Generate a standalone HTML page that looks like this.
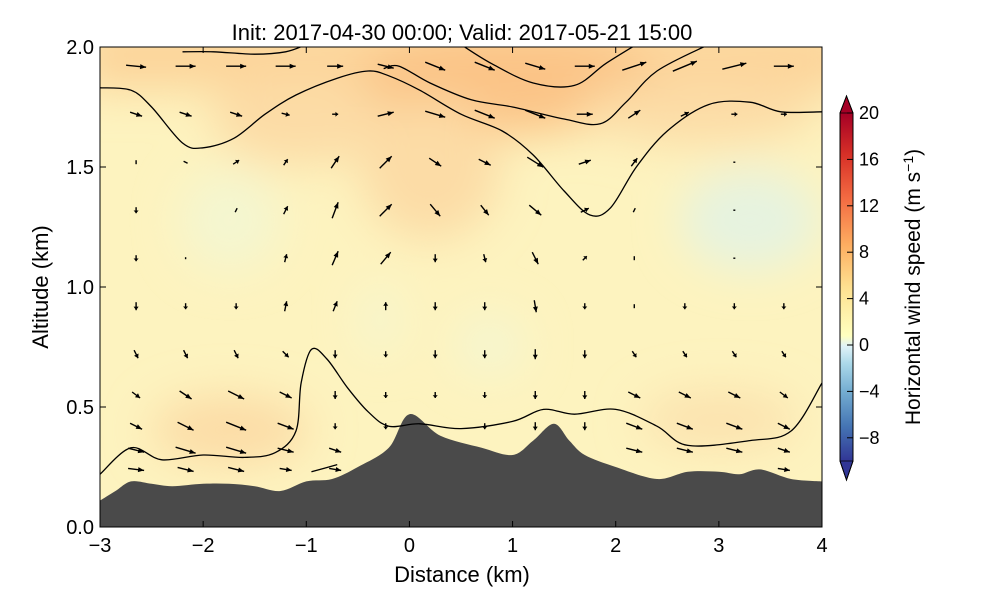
<!DOCTYPE html>
<html><head><meta charset="utf-8"><style>
body{margin:0;background:#fff;}
svg text{font-family:"Liberation Sans",sans-serif;fill:#000;}
</style></head><body>
<svg id="c" width="1000" height="600" xmlns="http://www.w3.org/2000/svg">
<defs>
<filter id="blur" x="-50%" y="-50%" width="200%" height="200%"><feGaussianBlur stdDeviation="22"/></filter>
<clipPath id="clip"><rect x="100" y="47" width="722" height="480"/></clipPath>
<linearGradient id="cbg" x1="0" y1="1" x2="0" y2="0">
<stop offset="0" stop-color="#313695"/><stop offset="0.1" stop-color="#4575b4"/><stop offset="0.2" stop-color="#74add1"/>
<stop offset="0.28" stop-color="#abd9e9"/><stop offset="0.33" stop-color="#e0f3f8"/><stop offset="0.36" stop-color="#ffffbf"/>
<stop offset="0.5" stop-color="#fee090"/><stop offset="0.62" stop-color="#fdae61"/><stop offset="0.75" stop-color="#f46d43"/>
<stop offset="0.88" stop-color="#d73027"/><stop offset="1" stop-color="#a50026"/></linearGradient>
</defs>
<text x="462" y="40" font-size="22" text-anchor="middle">Init: 2017-04-30 00:00; Valid: 2017-05-21 15:00</text>
<g clip-path="url(#clip)">
<rect x="100" y="47" width="722" height="480" fill="#fdf3bf"/>
<g filter="url(#blur)">
<rect x="80" y="20" width="780" height="70" fill="#fcd49a"/>
<ellipse cx="510" cy="80" rx="150" ry="55" fill="#fbc487"/>
<ellipse cx="300" cy="120" rx="90" ry="45" fill="#fcdca6"/>
<ellipse cx="700" cy="110" rx="120" ry="35" fill="#fcdca6"/>
<ellipse cx="430" cy="170" rx="70" ry="70" fill="#fcdca6"/>
<ellipse cx="230" cy="220" rx="50" ry="50" fill="#f4f6d0"/>
<ellipse cx="750" cy="220" rx="70" ry="50" fill="#e6f3e0"/>
<ellipse cx="490" cy="345" rx="35" ry="30" fill="#f5f6d0"/>
<ellipse cx="380" cy="320" rx="18" ry="35" fill="#f5f6d0"/>
<ellipse cx="230" cy="430" rx="80" ry="35" fill="#fcdca6"/>
<ellipse cx="720" cy="420" rx="80" ry="30" fill="#fce2ae"/>
</g>
<polygon id="terrain" fill="#4a4a4a"/>
<g id="contours" fill="none" stroke="#000" stroke-width="1.3"></g>
<g id="arrows"></g>
</g>
<rect x="100" y="47" width="722" height="480" fill="none" stroke="#000" stroke-width="1"/>
<g id="axes" font-size="20"></g>
<text x="462" y="582" font-size="22" text-anchor="middle">Distance (km)</text>
<text transform="translate(48,287) rotate(-90)" font-size="22" text-anchor="middle">Altitude (km)</text>
<g>
<rect x="840" y="113" width="13" height="348" fill="url(#cbg)"/>
<polygon points="840,113 853,113 846.5,96" fill="#a50026" stroke="#000" stroke-width="0.8"/>
<polygon points="840,461 853,461 846.5,480" fill="#313695" stroke="#000" stroke-width="0.8"/>
<polygon points="840,113 846.5,96 853,113 853,461 846.5,480 840,461" fill="none" stroke="#000" stroke-width="1"/>
<g id="cbticks" font-size="18"></g>
<text transform="translate(920,287) rotate(-90)" font-size="21" text-anchor="middle">Horizontal wind speed (m s<tspan dy="-7" font-size="14">−1</tspan><tspan dy="7">)</tspan></text>
</g>
</svg>
<script>
const xTicks=[-3,-2,-1,0,1,2,3,4];
const yTicks=[0.0,0.5,1.0,1.5,2.0];
const cbTicks=[20,16,12,8,4,0,-4,-8];
const terrainX=[-3,-2.85,-2.7,-2.5,-2.3,-2.0,-1.75,-1.5,-1.25,-1.0,-0.75,-0.5,-0.2,0,0.3,0.7,1.0,1.2,1.4,1.55,1.7,2.0,2.4,2.7,3.0,3.2,3.4,3.7,4];
const terrainY=[0.11,0.15,0.19,0.18,0.17,0.18,0.18,0.17,0.15,0.19,0.20,0.25,0.33,0.47,0.38,0.33,0.30,0.36,0.43,0.36,0.30,0.25,0.20,0.23,0.23,0.22,0.24,0.20,0.19];
const contourUpperX=[-3,-2.7,-2.5,-2.2,-2,-1.7,-1.4,-1.1,-0.7,-0.4,-0.2,0.1,0.5,0.9,1.2,1.5,1.75,1.95,2.2,2.5,2.9,3.3,3.6,4];
const contourUpperY=[1.83,1.82,1.75,1.60,1.58,1.62,1.72,1.80,1.87,1.90,1.88,1.82,1.72,1.65,1.55,1.40,1.30,1.33,1.50,1.65,1.76,1.77,1.73,1.73];
const contourTopX=[-0.25,-0.1,0.2,0.6,1.0,1.5,1.85,2.1,2.4,2.9];
const contourTopY=[1.91,1.92,1.85,1.78,1.75,1.70,1.68,1.77,1.90,2.01];
const contourTop2X=[0.5,0.8,1.2,1.6,1.9,2.2];
const contourTop2Y=[2.01,1.93,1.85,1.84,1.93,2.01];
const contourTop3X=[-2.2,-1.9,-1.5,-1.2,-1.0];
const contourTop3Y=[1.98,1.98,1.97,1.98,2.01];
const contourLowerX=[-3,-2.7,-2.4,-2.0,-1.6,-1.3,-1.1,-1.05,-0.95,-0.8,-0.6,-0.4,-0.2,0.1,0.5,1.0,1.3,1.6,2.0,2.4,2.7,3.3,3.7,4];
const contourLowerY=[0.22,0.33,0.28,0.30,0.29,0.31,0.40,0.60,0.74,0.70,0.58,0.48,0.42,0.43,0.41,0.44,0.49,0.47,0.49,0.42,0.34,0.36,0.40,0.60];
const contourSmallX=[-0.95,-0.7];
const contourSmallY=[0.23,0.26];
const arrowCols=[-2.65,-2.17,-1.68,-1.2,-0.72,-0.23,0.25,0.73,1.22,1.7,2.18,2.67,3.15,3.63];
const arrowRows=[1.92,1.72,1.52,1.32,1.12,0.92,0.72,0.55,0.42,0.32,0.24];
const arrowU=[
[10,10,10,10,8,8,10,10,10,10,12,12,12,10],
[6,6,6,4,3,8,10,10,10,8,6,4,3,3],
[0,2,3,2,4,6,6,6,8,6,3,0,1,0],
[0,0,1,2,3,6,5,4,6,4,1,0,1,0],
[0,0,0,1,3,5,0,1,3,2,0,0,1,0],
[0,0,0,1,2,0,0,0,1,0,0,0,0,0],
[2,2,2,3,0,0,0,0,0,0,2,2,2,2],
[4,6,8,6,0,0,0,0,0,0,6,6,6,4],
[6,8,10,8,0,0,0,0,0,0,8,8,8,6],
[8,10,10,8,6,0,0,0,0,0,8,8,8,6],
[8,8,8,6,6,0,0,0,0,0,6,6,6,6]];
const arrowW=[
[-1,0,0,0,0,-2,-4,-4,-3,0,4,5,3,0],
[-2,-2,-2,-1,0,2,-3,-4,-4,0,4,2,0,0],
[-2,-1,2,3,6,6,-4,-3,-5,2,4,0,0,0],
[-3,0,2,4,8,6,-6,-5,-5,2,2,0,0,0],
[-3,-1,0,4,7,6,-4,-4,-6,2,2,0,0,0],
[-4,-3,-3,5,5,4,-4,-4,-6,-3,-2,-3,-3,-3],
[-4,-4,-4,-3,-4,-3,-4,-4,-5,-4,-3,-3,-3,-3],
[-3,-4,-4,-3,-4,-3,-3,-3,-4,-4,-3,-3,-3,-3],
[-3,-4,-4,-3,-3,-3,-3,-3,-4,-4,-3,-3,-3,-3],
[-2,-3,-3,-2,-2,-3,-3,-3,-3,-3,-2,-2,-2,-2],
[-1,-2,-2,-1,-1,-2,-2,-2,-2,-2,-1,-1,-1,-1]];

const NS='http://www.w3.org/2000/svg';
const X=v=>100+(v+3)*722/7;
const Y=v=>527-v*240;
const CB=v=>461-(v+10)*348/30;
function mk(t,a,p){const e=document.createElementNS(NS,t);for(const k in a)e.setAttribute(k,a[k]);p.appendChild(e);return e;}
function smooth(P){let d='M'+P[0][0]+','+P[0][1];for(let i=0;i<P.length-1;i++){const p0=P[Math.max(0,i-1)],p1=P[i],p2=P[i+1],p3=P[Math.min(P.length-1,i+2)];
 d+=` C${p1[0]+(p2[0]-p0[0])/6},${p1[1]+(p2[1]-p0[1])/6} ${p2[0]-(p3[0]-p1[0])/6},${p2[1]-(p3[1]-p1[1])/6} ${p2[0]},${p2[1]}`;}return d;}
let pts=terrainX.map((x,i)=>[X(x),Y(terrainY[i])]);
let td=smooth(pts)+` L${X(4)},${Y(-0.1)} L${X(-3)},${Y(-0.1)} Z`;
const tp=document.getElementById('terrain');
const tpath=mk('path',{d:td,fill:'#4a4a4a'},tp.parentNode);
tp.parentNode.insertBefore(tpath,tp);tp.remove();


function terr(x){for(let i=0;i<terrainX.length-1;i++){if(x>=terrainX[i]&&x<=terrainX[i+1]){const t=(x-terrainX[i])/(terrainX[i+1]-terrainX[i]);return terrainY[i]+t*(terrainY[i+1]-terrainY[i]);}}return 0.2;}
const cg=document.getElementById('contours');
[[contourUpperX,contourUpperY,'contour-upper'],[contourTopX,contourTopY,'contour-top'],[contourTop2X,contourTop2Y,'contour-top-2'],[contourTop3X,contourTop3Y,'contour-top-3'],[contourLowerX,contourLowerY,'contour-lower'],[contourSmallX,contourSmallY,'contour-small']].forEach(c=>{
 const e=mk('path',{d:smooth(c[0].map((x,i)=>[X(x),Y(c[1][i])]))},cg);
 
 
});
const ag=document.getElementById('arrows');
const S=2;
arrowRows.forEach((r,ri)=>arrowCols.forEach((c,ci)=>{
 if(r<terr(c)+0.03)return;
 const u=arrowU[ri][ci],w=arrowW[ri][ci];
 const dx=u*S,dy=-w*S;const L=Math.hypot(dx,dy);if(L<0.5)return;
 const x0=X(c)-dx/2,y0=Y(r)-dy/2,x1=x0+dx,y1=y0+dy;
 const g=mk('g',{},ag);
 
 
 mk('line',{x1:x0,y1:y0,x2:x1,y2:y1,stroke:'#000','stroke-width':1.4},g);
 if(L>5){const ux=dx/L,uy=dy/L,h=Math.min(6,L*0.45);
  mk('polygon',{points:`${x1},${y1} ${x1-ux*h-uy*2.5},${y1-uy*h+ux*2.5} ${x1-ux*h+uy*2.5},${y1-uy*h-ux*2.5}`,fill:'#000'},g);}
}));
const ax=document.getElementById('axes');
xTicks.forEach(t=>{
 mk('line',{x1:X(t),x2:X(t),y1:527,y2:521,stroke:'#000'},ax);
 mk('line',{x1:X(t),x2:X(t),y1:47,y2:53,stroke:'#000'},ax);
 const e=mk('text',{x:X(t),y:552,'text-anchor':'middle'},ax);e.textContent=(t<0?'−':'')+Math.abs(t);
 
 
});
yTicks.forEach(t=>{
 mk('line',{x1:100,x2:106,y1:Y(t),y2:Y(t),stroke:'#000'},ax);
 mk('line',{x1:822,x2:816,y1:Y(t),y2:Y(t),stroke:'#000'},ax);
 const e=mk('text',{x:94,y:Y(t)+7,'text-anchor':'end'},ax);e.textContent=t.toFixed(1);
 
 
});
const cbt=document.getElementById('cbticks');
cbTicks.forEach(t=>{
 mk('line',{x1:847,x2:853,y1:CB(t),y2:CB(t),stroke:'#000'},cbt);
 const e=mk('text',{x:859,y:CB(t)+6},cbt);e.textContent=(t<0?'−':'')+Math.abs(t);
 
 
});
</script>
</body></html>
